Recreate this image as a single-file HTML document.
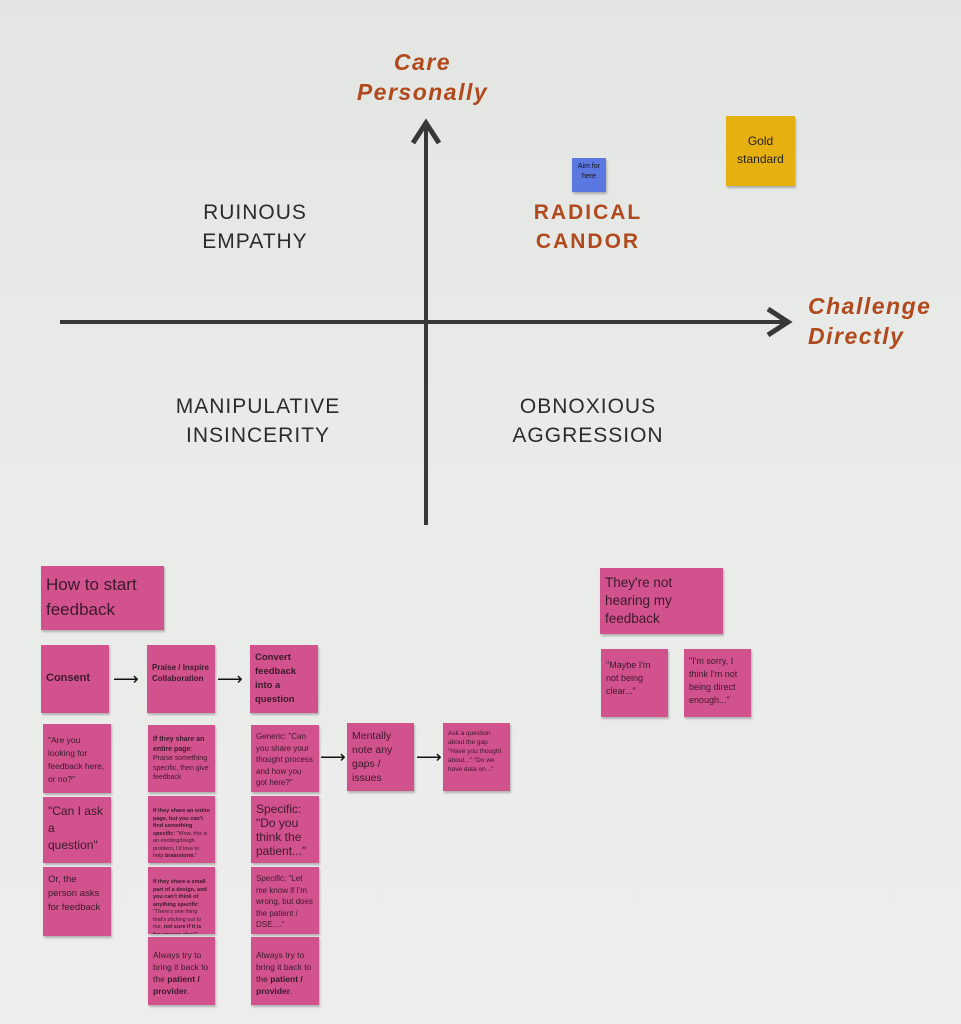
<!DOCTYPE html>
<html><head><style>
body{margin:0;width:961px;height:1024px;overflow:hidden;background:linear-gradient(180deg,#e3e5e3 0%,#e9ebe9 40%,#ecedec 100%);font-family:"Liberation Sans",sans-serif;position:relative}
.t{position:absolute;text-align:center;letter-spacing:1px;color:#2b2b2b;font-size:21px;line-height:29px}
.o{color:#b04a1c;font-style:italic;font-weight:bold;letter-spacing:1.5px;font-size:23px;line-height:30px;position:absolute}
.n{position:absolute;background:#d2528d;color:#3a1a2a;box-shadow:1px 2px 2px rgba(0,0,0,.25);box-sizing:border-box;padding:6px 5px;font-size:9px;line-height:13px;overflow:hidden}
.s{font-size:5.5px;line-height:7.5px;padding:5px}
.m{font-size:12px;line-height:15px}
.a{position:absolute;font-size:18px;color:#111;line-height:18px}
</style></head><body>
<svg width="961" height="1024" style="position:absolute;left:0;top:0">
<line x1="426" y1="124" x2="426" y2="525" stroke="#383838" stroke-width="4"/>
<polyline points="413,143 426,123 439,143" fill="none" stroke="#383838" stroke-width="5"/>
<line x1="60" y1="322" x2="788" y2="322" stroke="#383838" stroke-width="4"/>
<polyline points="768,309 788,322 768,335" fill="none" stroke="#383838" stroke-width="5"/>
</svg>
<div class="o" style="left:340px;top:47px;width:165px;text-align:center">Care<br>Personally</div>
<div class="o" style="left:808px;top:291px">Challenge<br>Directly</div>
<div class="t" style="left:140px;top:198px;width:230px">RUINOUS<br>EMPATHY</div>
<div class="t" style="left:470px;top:198px;width:236px;color:#b04a1c;font-weight:bold;letter-spacing:2px">RADICAL<br>CANDOR</div>
<div class="t" style="left:130px;top:392px;width:256px">MANIPULATIVE<br>INSINCERITY</div>
<div class="t" style="left:470px;top:392px;width:236px">OBNOXIOUS<br>AGGRESSION</div>
<div class="n" style="left:572px;top:158px;width:34px;height:34px;background:#5b78e2;font-size:7px;line-height:10px;padding:4px 1px;text-align:center;color:#111">Aim for here</div>
<div class="n" style="left:726px;top:116px;width:69px;height:70px;background:#e6b010;font-size:12px;line-height:18px;padding:16px 2px;text-align:center;color:#222">Gold standard</div>

<div class="n" style="left:41px;top:566px;width:123px;height:64px;font-size:17px;line-height:25px">How to start feedback</div>
<div class="n" style="left:41px;top:645px;width:68px;height:68px;font-size:11px;font-weight:bold;padding-top:27px">Consent</div>
<div class="n" style="left:147px;top:645px;width:68px;height:68px;font-size:8px;line-height:11px;font-weight:bold;padding-top:17px">Praise / Inspire Collaboration</div>
<div class="n" style="left:250px;top:645px;width:68px;height:68px;font-size:9.5px;line-height:14px;font-weight:bold">Convert feedback into a question</div>
<div class="a" style="left:113px;top:670px">⟶</div>
<div class="a" style="left:217px;top:670px">⟶</div>
<div class="a" style="left:320px;top:748px">⟶</div>
<div class="a" style="left:416px;top:748px">⟶</div>

<div class="n" style="left:43px;top:724px;width:68px;height:69px;font-size:8.5px;line-height:13px;padding-top:10px">"Are you looking for feedback here, or no?"</div>
<div class="n m" style="left:43px;top:797px;width:68px;height:66px;line-height:17px">"Can I ask a question"</div>
<div class="n" style="left:43px;top:867px;width:68px;height:69px;font-size:9.5px;line-height:14px">Or, the person asks for feedback</div>

<div class="n" style="left:148px;top:725px;width:67px;height:67px;font-size:7px;line-height:9.5px;padding-top:10px"><b>If they share an entire page</b>: Praise something specific, then give feedback</div>
<div class="n s" style="left:148px;top:796px;width:67px;height:67px;padding-top:12px"><b>If they share an entire page, but you can't find something specific</b>: "Wow, this is an exciting/tough problem, I'd love to help <b>brainstorm</b>."</div>
<div class="n s" style="left:148px;top:867px;width:67px;height:67px;padding-top:12px"><b>If they share a small part of a design, and you can't think of anything specific</b>: "There's one thing that's sticking out to me, <b>not sure if it is for anyone else</b>?"</div>
<div class="n" style="left:148px;top:937px;width:67px;height:68px;font-size:8.5px;line-height:12px;padding-top:12px">Always try to bring it back to the <b>patient / provider</b>.</div>

<div class="n" style="left:251px;top:725px;width:68px;height:67px;font-size:8px;line-height:11.5px">Generic: "Can you share your thought process and how you got here?"</div>
<div class="n m" style="left:251px;top:796px;width:68px;height:67px;line-height:14px">Specific: "Do you think the patient..."</div>
<div class="n" style="left:251px;top:867px;width:68px;height:67px;font-size:8px;line-height:11.5px">Specific: "Let me know if I'm wrong, but does the patient / DSE...."</div>
<div class="n" style="left:251px;top:937px;width:68px;height:68px;font-size:8.5px;line-height:12px;padding-top:12px">Always try to bring it back to the <b>patient / provider</b>.</div>

<div class="n" style="left:347px;top:723px;width:67px;height:68px;font-size:10.5px;line-height:14px">Mentally note any gaps / issues</div>
<div class="n" style="left:443px;top:723px;width:67px;height:68px;font-size:6.5px;line-height:9px">Ask a question about the gap "Have you thought about..." "Do we have data on..."</div>

<div class="n" style="left:600px;top:568px;width:123px;height:66px;font-size:13.5px;line-height:18px;padding-right:20px">They're not hearing my feedback</div>
<div class="n" style="left:601px;top:649px;width:67px;height:68px;font-size:9px;line-height:13px;padding-top:10px">"Maybe I'm not being clear..."</div>
<div class="n" style="left:684px;top:649px;width:67px;height:68px;font-size:9px;line-height:13px;padding-top:6px">"I'm sorry, I think I'm not being direct enough..."</div>
</body></html>
